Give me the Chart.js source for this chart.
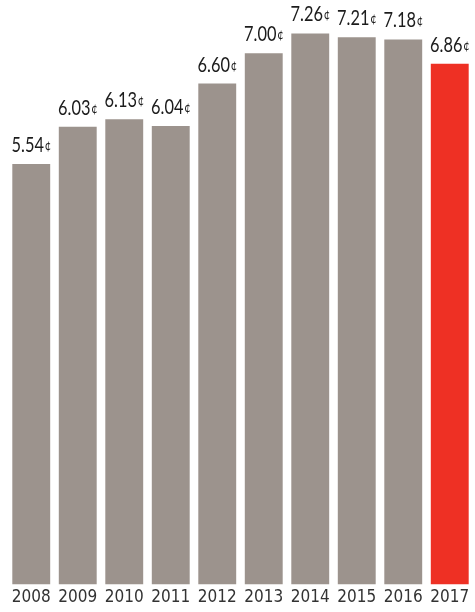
<!DOCTYPE html>
<html>
<head>
<meta charset="utf-8">
<script src="https://cdn.jsdelivr.net/npm/chart.js@4"></script>
<style>
html, body { margin: 0; padding: 0; background: #fff; }
#wrap { width: 475px; height: 612px; }
</style>
</head>
<body>
<div id="wrap"><canvas id="chart"></canvas></div>
<script>
const years = ["2008","2009","2010","2011","2012","2013","2014","2015","2016","2017"]
const cents = [5.54, 6.03, 6.13, 6.04, 6.60, 7.00, 7.26, 7.21, 7.18, 6.86]
const barColors = ["#9c938d","#9c938d","#9c938d","#9c938d","#9c938d","#9c938d","#9c938d","#9c938d","#9c938d","#ee3024"]

// value labels with a small cent sign
const sx = 0.78
const centLabels = {
  id: "centLabels",
  afterDatasetsDraw(chart) {
    const ctx = chart.ctx
    const meta = chart.getDatasetMeta(0)
    ctx.save()
    ctx.fillStyle = "#1c1c1c"
    ctx.textBaseline = "alphabetic"
    meta.data.forEach((bar, i) => {
      const num = cents[i].toFixed(2)
      ctx.font = "21px Lato"
      const w1 = ctx.measureText(num).width
      ctx.font = "14px Lato"
      const w2 = ctx.measureText("¢").width
      const x0 = bar.x - (w1 + w2 + 1) * sx / 2
      const y = bar.y - 12
      ctx.save()
      ctx.translate(x0, y)
      ctx.scale(sx, 1)
      ctx.font = "21px Lato"
      ctx.textAlign = "left"
      ctx.fillText(num, 0, 0)
      ctx.font = "14px Lato"
      ctx.fillText("¢", w1 + 1, -2)
      ctx.restore()
    })
    ctx.restore()
  }
}

new Chart(document.getElementById("chart"), {
  type: "bar",
  data: {
    labels: years,
    datasets: [{
      data: cents,
      backgroundColor: barColors,
      borderWidth: 0,
      barPercentage: 0.815,
      categoryPercentage: 1
    }]
  },
  options: {
    responsive: true,
    maintainAspectRatio: false,
    animation: false,
    layout: { padding: { left: 8, right: 2, top: 0, bottom: 1 } },
    plugins: {
      legend: { display: false },
      tooltip: { enabled: false }
    },
    scales: {
      x: {
        grid: { display: false, drawTicks: false },
        border: { display: false },
        ticks: {
          color: "#333",
          padding: 3,
          maxRotation: 0,
          minRotation: 0,
          autoSkip: false,
          font: { family: "'DejaVu Sans Condensed', 'Liberation Sans Narrow', sans-serif", size: 17 }
        }
      },
      y: {
        display: false,
        min: 0,
        max: 7.7
      }
    }
  },
  plugins: [centLabels]
})
</script>
</body>
</html>
